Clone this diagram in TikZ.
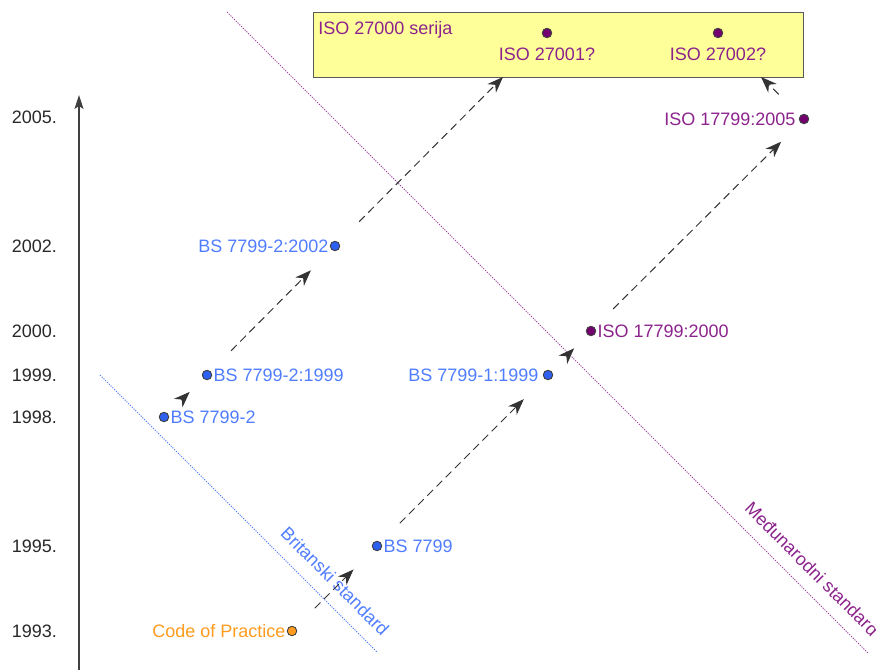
\documentclass[tikz,border=0pt]{standalone}
\usepackage{fontspec}
\setmainfont{Liberation Sans}
\usetikzlibrary{arrows.meta}
\definecolor{bsblue}{RGB}{80,125,255}
\definecolor{dotblue}{RGB}{45,95,240}
\definecolor{isopurple}{RGB}{140,35,140}
\definecolor{dotpurple}{RGB}{115,0,110}
\definecolor{cporange}{RGB}{255,155,30}
\definecolor{boxyellow}{RGB}{255,255,153}
\definecolor{yeargray}{RGB}{40,40,40}
\begin{document}
\begin{tikzpicture}[x=1pt,y=-1pt,
  font=\fontsize{18}{21}\selectfont,
  dot/.style={circle, draw=black!75, line width=0.9pt, inner sep=0pt, minimum size=9.5pt},
  lbl/.style={inner sep=1.2pt, text height=12.9pt, text depth=0pt},
  year/.style={anchor=east, text=yeargray, inner sep=0pt, text height=12.9pt, text depth=0pt},
  conn/.style={dash pattern=on 8pt off 5pt, line width=1pt, draw=black!80, -{Stealth[length=16pt,width=12pt,inset=5pt]}},
  guide/.style={dash pattern=on 1.2pt off 1.3pt, line width=0.9pt}]
\useasboundingbox (0,0) rectangle (876,670);

% guide lines
\draw[guide, draw=bsblue] (100,375) coordinate (bl1) -- (377,652) coordinate (bl2);
\draw[guide, draw=isopurple!85] (227,12) coordinate (pl1) -- (868,653) coordinate (pl2);
\node[text=bsblue, rotate=-45] (brit) at (335,581) {Britanski standard};
\node[text=isopurple, rotate=-45] (medj) at (812,569) {Međunarodni standard};

% time axis
\draw[line width=1.1pt, draw=black!75, -{Stealth[length=14pt,width=9pt,inset=3pt]}] (79,670) coordinate (ax0) -- (79,95) coordinate (ax1);
\node[year] (y2005) at (57,117) {2005.};
\node[year] (y2002) at (57,246) {2002.};
\node[year] (y2000) at (57,331) {2000.};
\node[year] (y1999) at (57,375) {1999.};
\node[year] (y1998) at (57,417) {1998.};
\node[year] (y1995) at (57,546) {1995.};
\node[year] (y1993) at (57,631) {1993.};

% ISO 27000 box
\node[draw=black!65, line width=1pt, fill=boxyellow, minimum width=490pt, minimum height=65pt, inner sep=0pt, anchor=north west] (box) at (313,12) {};
\node[lbl, text=isopurple, anchor=west] (boxt) at (317,28) {ISO 27000 serija};
\node[dot, fill=dotpurple] (i27001) at (547,33) {};
\node[lbl, text=isopurple] (i27001l) at (547,54) {ISO 27001?};
\node[dot, fill=dotpurple] (i27002) at (718,33) {};
\node[lbl, text=isopurple] (i27002l) at (718,54) {ISO 27002?};
\coordinate (boxin1) at (503,77);
\coordinate (boxin2) at (761,77);

% points
\node[dot, fill=cporange] (cop) at (292,631) {};
\node[lbl, text=cporange, anchor=east] (copl) at (cop.west) {Code of Practice};
\node[dot, fill=dotblue] (bs) at (377,546) {};
\node[lbl, text=bsblue, anchor=west] (bsl) at (bs.east) {BS 7799};
\node[dot, fill=dotblue] (bs2) at (164,417) {};
\node[lbl, text=bsblue, anchor=west] (bs2l) at (bs2.east) {BS 7799-2};
\node[dot, fill=dotblue] (bs299) at (207,375) {};
\node[lbl, text=bsblue, anchor=west] (bs299l) at (bs299.east) {BS 7799-2:1999};
\node[dot, fill=dotblue] (bs199) at (548,375) {};
\node[lbl, text=bsblue, anchor=east] (bs199l) at ([xshift=-3pt]bs199.west) {BS 7799-1:1999};
\node[dot, fill=dotblue] (bs202) at (335,246) {};
\node[lbl, text=bsblue, anchor=east] (bs202l) at (bs202.west) {BS 7799-2:2002};
\node[dot, fill=dotpurple] (iso00) at (591,331) {};
\node[lbl, text=isopurple, anchor=west] (iso00l) at (iso00.east) {ISO 17799:2000};
\node[dot, fill=dotpurple] (iso05) at (804,119) {};
\node[lbl, text=isopurple, anchor=east] (iso05l) at ([xshift=-2pt]iso05.west) {ISO 17799:2005};

% connectors
\draw[conn, shorten <=27pt, shorten >=28pt] (cop) -- (bs);
\draw[conn, shorten <=27pt, shorten >=29pt] (bs) -- (bs199);
\draw[conn, shorten <=21pt, shorten >=19pt] (bs199) -- (iso00);
\draw[conn, shorten <=26pt, shorten >=27pt] (iso00) -- (iso05);
\draw[conn, shorten <=30pt] (iso05) -- (boxin2);
\draw[conn, shorten <=19pt, shorten >=19pt] (bs2) -- (bs299);
\draw[conn, shorten <=29pt, shorten >=29pt] (bs299) -- (bs202);
\draw[conn, shorten <=29pt] (bs202) -- (boxin1);
\end{tikzpicture}
\end{document}
